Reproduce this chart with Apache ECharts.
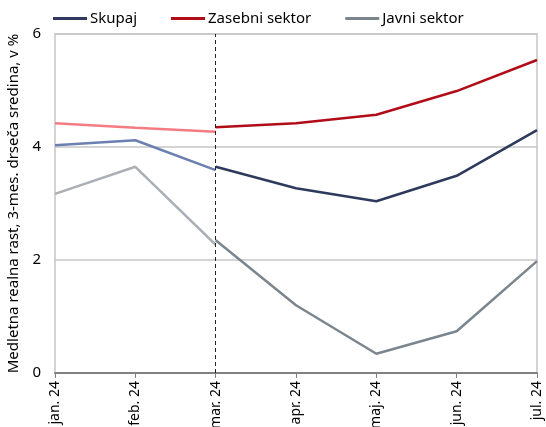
<!DOCTYPE html>
<html>
<head>
<meta charset="utf-8">
<script src="https://cdn.jsdelivr.net/npm/echarts@6/dist/echarts.min.js"></script>
<style>
  html, body { margin: 0; padding: 0; background: #fff; }
  #chart { width: 546px; height: 427px; }
</style>
</head>
<body>
<div id="chart"></div>
<script>
var months = ["jan. 24", "feb. 24", "mar. 24", "apr. 24", "maj. 24", "jun. 24", "jul. 24"];
// prva tri obdobja (svetlejše barve), nato od marca naprej (temnejše)
var skupajOld = [4.03, 4.12, 3.59, null, null, null, null];
var skupajNew = [null, null, 3.65, 3.27, 3.04, 3.49, 4.30];
var zasebniOld = [4.42, 4.34, 4.27, null, null, null, null];
var zasebniNew = [null, null, 4.35, 4.42, 4.57, 4.99, 5.54];
var javniOld = [3.17, 3.65, 2.27, null, null, null, null];
var javniNew = [null, null, 2.35, 1.20, 0.34, 0.74, 1.98];

var font = "Noto Sans";

function line(name, data, color, extra) {
  var s = {
    name: name,
    type: "line",
    data: data,
    symbol: "none",
    smooth: false,
    lineStyle: { color: color, width: 2.5 },
    itemStyle: { color: color },
    z: 3,
  };
  return Object.assign(s, extra || {});
}

var chart = echarts.init(document.getElementById("chart"), null, { renderer: "canvas" });
chart.setOption({
  animation: false,
  textStyle: { fontFamily: font },
  legend: {
    data: ["Skupaj", "Zasebni sektor", "Javni sektor"],
    top: 6,
    left: 48,
    itemGap: 34,
    itemWidth: 34,
    itemHeight: 3,
    icon: "rect",
    textStyle: { fontSize: 15, color: "#000", fontFamily: font, padding: [0, 0, 0, -2] },
  },
  grid: {
    left: 55,
    right: 9,
    top: 34,
    bottom: 54,
    outerBoundsMode: "none",
    show: true,
    borderColor: "#c6c6c6",
    borderWidth: 1.5,
  },
  xAxis: {
    type: "category",
    data: months,
    boundaryGap: false,
    axisLine: { lineStyle: { color: "#808080", width: 2 } },
    axisTick: { show: true, length: 5, lineStyle: { color: "#808080" } },
    axisLabel: { rotate: 90, fontSize: 14, color: "#000", margin: 8, fontFamily: font },
    splitLine: { show: false },
  },
  yAxis: {
    type: "value",
    min: 0,
    max: 6,
    interval: 2,
    name: "Medletna realna rast, 3-mes. drseča sredina, v %",
    nameLocation: "middle",
    nameGap: 32,
    nameTextStyle: { fontSize: 15, color: "#000", fontFamily: font },
    axisLine: { show: false },
    axisTick: { show: false },
    axisLabel: { fontSize: 15, color: "#000", margin: 14, fontFamily: font },
    splitLine: { lineStyle: { color: "#c6c6c6", width: 1.5 } },
  },
  series: [
    line("Skupaj (pred)", skupajOld, "#6b7fb1"),
    line("Zasebni sektor (pred)", zasebniOld, "#f57b82"),
    line("Javni sektor (pred)", javniOld, "#aab0b5"),
    line("Skupaj", skupajNew, "#2d3a5c", {
      markLine: {
        silent: true,
        symbol: "none",
        label: { show: false },
        lineStyle: { color: "#222", type: [4, 3], width: 1 },
        data: [{ xAxis: "mar. 24" }],
      },
    }),
    line("Zasebni sektor", zasebniNew, "#b00d18"),
    line("Javni sektor", javniNew, "#7b858e"),
  ],
});
</script>
</body>
</html>
